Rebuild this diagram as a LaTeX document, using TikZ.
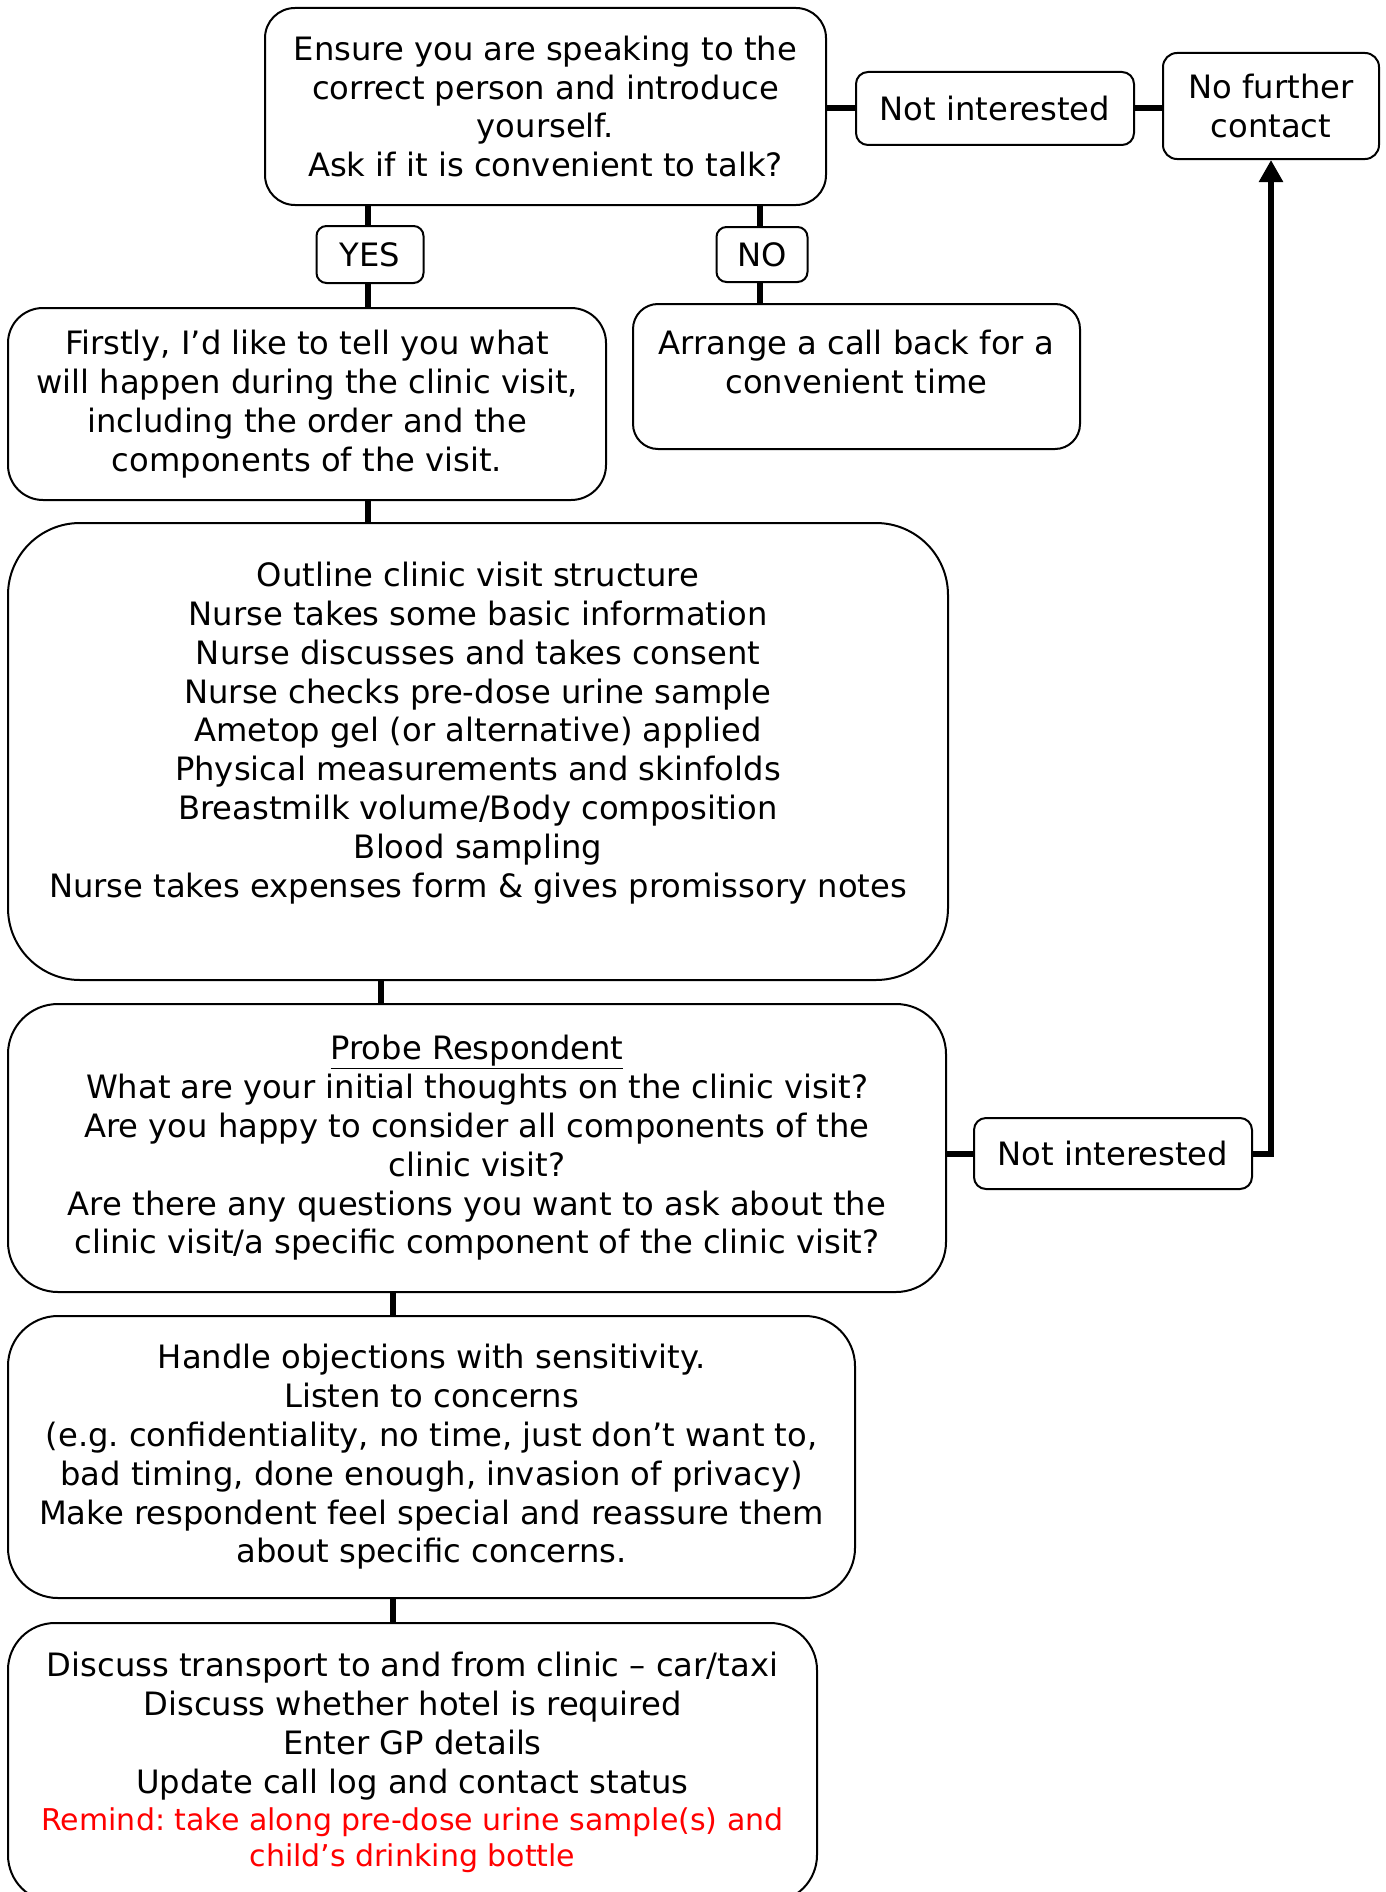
\documentclass[tikz,border=0pt]{standalone}
\usepackage{fontspec}
\setmainfont{DejaVu Sans}
\usetikzlibrary{arrows.meta}
\definecolor{remindred}{RGB}{255,0,0}
\frenchspacing
\begin{document}
\begin{tikzpicture}[x=1pt,y=-1pt,
  txt/.style={align=center, inner sep=0pt, font=\fontsize{32.2}{38.8}\selectfont},
  box/.style={draw, line width=2pt, inner sep=0pt, align=center, rounded corners=#1,
              font=\fontsize{32.2}{38.8}\selectfont},
  redtxt/.style={align=center, inner sep=0pt, text=remindred, font=\fontsize{30}{36.5}\selectfont},
  conn/.style={line width=6pt},
  arr/.style={line width=6pt, -{Triangle[width=23pt,length=22pt]}}]
\useasboundingbox (0,0) rectangle (1386,1892);
\fill[white] (0,0) rectangle (1386,1892);

% top row
\node[box=30, minimum width=561, minimum height=197] (top) at (545.5,106.5)
  {Ensure you are speaking to the\\correct person and introduce\\yourself.\\Ask if it is convenient to talk?};
\node[box=12, minimum width=278, minimum height=73] (ni1) at (995,108.5) {Not interested};
\node[box=14, minimum width=216, minimum height=106] (nfc) at (1271,106) {No further\\contact};

% yes / no
\node[box=10, minimum width=107, minimum height=57] (yes) at (370,254.5) {YES};
\node[box=10, minimum width=91, minimum height=55] (no) at (762,254.5) {NO};

% second row
\node[box=35, minimum width=598, minimum height=192] (firstly) at (307,404)
  {Firstly, I’d like to tell you what\\will happen during the clinic visit,\\including the order and the\\components of the visit.};
\node[box=25, minimum width=447, minimum height=145] (arrange) at (856.5,376.5) {};
\node[txt] (arrangetxt) at (856.5,362) {Arrange a call back for a\\convenient time};

% outline
\node[box=72, minimum width=940, minimum height=457] (outline) at (478,751.5) {};
\node[txt] (outlinetxt) at (478,733) {Outline clinic visit structure\\Nurse takes some basic information\\Nurse discusses and takes consent\\Nurse checks pre-dose urine sample\\Ametop gel (or alternative) applied\\Physical measurements and skinfolds\\Breastmilk volume/Body composition\\Blood sampling\\Nurse takes expenses form \& gives promissory notes};

% probe
\node[box=50, minimum width=938, minimum height=288] (probe) at (477,1148)
  {\underline{Probe Respondent}\\What are your initial thoughts on the clinic visit?\\Are you happy to consider all components of the\\clinic visit?\\Are there any questions you want to ask about the\\clinic visit/a specific component of the clinic visit?};
\node[box=12, minimum width=278, minimum height=71] (ni2) at (1113,1153.5) {Not interested};

% handle
\node[box=50, minimum width=847, minimum height=282] (handle) at (431.5,1457)
  {Handle objections with sensitivity.\\Listen to concerns\\(e.g. confidentiality, no time, just don’t want to,\\bad timing, done enough, invasion of privacy)\\Make respondent feel special and reassure them\\about specific concerns.};

% discuss
\node[box=47, minimum width=809, minimum height=279] (discuss) at (412.5,1762.5) {};
\node[txt] (discusstxt) at (412.5,1726) {Discuss transport to and from clinic – car/taxi\\Discuss whether hotel is required\\Enter GP details\\Update call log and contact status};
\node[redtxt] (remindtxt) at (412.5,1840) {Remind: take along pre-dose urine sample(s) and\\child’s drinking bottle};

% connectors
\draw[conn] (top.east |- ni1.west) -- (ni1.west);
\draw[conn] (ni1.east) -- (ni1.east -| nfc.west);
\draw[conn] ([xshift=-2pt]yes.north) -- ([xshift=-2pt]yes.north |- top.south);
\draw[conn] ([xshift=-2pt]yes.south) -- ([xshift=-2pt]yes.south |- firstly.north);
\draw[conn] ([xshift=-2pt]no.north) -- ([xshift=-2pt]no.north |- top.south);
\draw[conn] ([xshift=-2pt]no.south) -- ([xshift=-2pt]no.south |- arrange.north);
\draw[conn] ([xshift=-2pt]yes.south |- firstly.south) -- ([xshift=-2pt]yes.south |- outline.north);
\draw[conn] ([xshift=-97pt]outline.south) -- ([xshift=-97pt]outline.south |- probe.north);
\draw[conn] ([xshift=-84pt]probe.south) -- ([xshift=-84pt]probe.south |- handle.north);
\draw[conn] ([xshift=-38.5pt]handle.south) -- ([xshift=-38.5pt]handle.south |- discuss.north);
\draw[conn] (probe.east |- ni2.west) -- (ni2.west);
\draw[arr] (ni2.east) -- (ni2.east -| nfc.south) -- (nfc.south);
\end{tikzpicture}
\end{document}
